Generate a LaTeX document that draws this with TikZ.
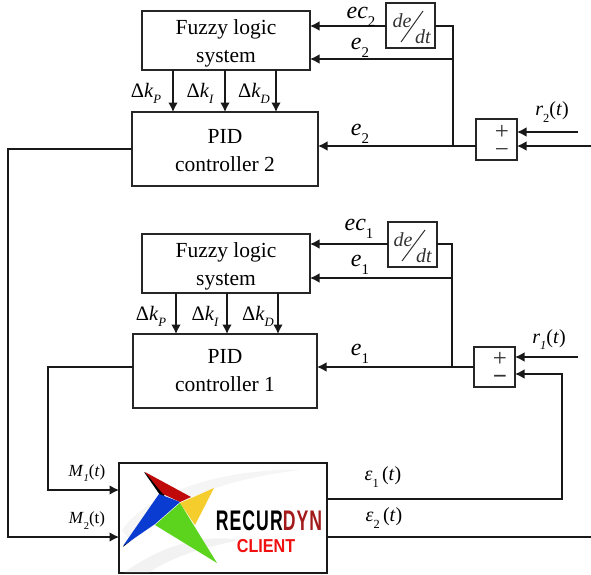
\documentclass[tikz,border=0pt]{standalone}
\usepackage{fontspec}
\usepackage{graphicx}
\setmainfont{Liberation Serif}
\newfontfamily\logofont{Liberation Sans}
\usetikzlibrary{arrows.meta}
\newcommand{\subx}[1]{\raisebox{-0.36em}{\scalebox{0.62}{#1}}}
\newcommand{\subi}[1]{\raisebox{-0.3em}{\scalebox{0.62}{\itshape #1}}}
\newcommand{\fzstrut}{\rule{0pt}{21pt}}
\newcommand{\pidstrut}{\rule{0pt}{17pt}}
\definecolor{logored}{HTML}{C00A0A}
\definecolor{logoblue}{HTML}{0A3CD2}
\definecolor{logoyellow}{HTML}{F5CE2E}
\definecolor{logogreen}{HTML}{5CD41E}
\definecolor{dynred}{HTML}{A31A1A}
\definecolor{clientred}{HTML}{F01010}
\tikzset{
  box/.style={draw=black!85,line width=1.2pt,fill=white,inner sep=0pt,outer sep=0pt,align=center,font=\fontsize{21.5}{28}\selectfont},
  conn/.style={draw=black!90,line width=1.2pt},
  arr/.style={conn,-{Latex[length=9.5pt,width=9.5pt]}},
  sig/.style={inner sep=0pt,font=\fontsize{24}{28}\selectfont\itshape},
  gain/.style={inner sep=0pt,font=\fontsize{20.5}{24}\selectfont},
  lab/.style={inner sep=0pt,font=\fontsize{20}{24}\selectfont},
  small/.style={inner sep=0pt,font=\fontsize{17}{20}\selectfont},
  deriv/.style={inner sep=0pt,font=\fontsize{20}{22}\selectfont\itshape,text=black!80},
  sumsign/.style={inner sep=0pt,align=center,font=\fontsize{25}{18}\selectfont,text=black!80},
}
\begin{document}
\begin{tikzpicture}[x=1pt,y=-1pt]
\useasboundingbox (0,0) rectangle (591,574);
% blocks
\node[box,minimum width=168pt,minimum height=59pt] (fz2) at (226,40.5) {\fzstrut Fuzzy logic\\system};
\node[box,minimum width=186pt,minimum height=74pt] (pid2) at (225,149) {\pidstrut PID\\controller 2};
\node[box,minimum width=168pt,minimum height=59pt] (fz1) at (226,263.5) {\fzstrut Fuzzy logic\\system};
\node[box,minimum width=184pt,minimum height=74pt] (pid1) at (225,371) {PID\\controller 1};
\node[box,minimum width=49pt,minimum height=45pt] (dd2) at (410.5,25.5) {};
\node[box,minimum width=49pt,minimum height=45pt] (dd1) at (412.5,244.5) {};
\node[box,minimum width=41pt,minimum height=41pt] (sum2) at (496.5,139.5) {};
\node[box,minimum width=41pt,minimum height=40pt] (sum1) at (494.5,367) {};
\node[draw=black!90,line width=2pt,fill=white,minimum width=208pt,minimum height=110pt,inner sep=0pt,outer sep=0pt] (client) at (223,518) {};
% derivative block contents
\node[deriv] (de2) at (402,21) {de};
\node[deriv] (dt2) at (423,37) {dt};
\coordinate (sa2) at (423,11); \coordinate (sb2) at (401,42);
\draw[black!80,line width=1pt] (sa2) -- (sb2);
\node[deriv] (de1) at (403,240) {de};
\node[deriv] (dt1) at (424,256) {dt};
\coordinate (sa1) at (425,230); \coordinate (sb1) at (402,261);
\draw[black!80,line width=1pt] (sa1) -- (sb1);
% sum signs
\node[sumsign] (s2) at (502,141) {+\\−};
\node[sumsign] (s1) at (500,368) {+\\\textbf{−}};
% free ends and routing points
\coordinate (k2p) at (173,0); \coordinate (k2i) at (225,0); \coordinate (k2d) at (276,0);
\coordinate (k1p) at (176,0); \coordinate (k1i) at (227,0); \coordinate (k1d) at (278,0);
\coordinate (ec2y) at (0,26); \coordinate (e2y) at (0,59); \coordinate (pe2y) at (0,146);
\coordinate (ec1y) at (0,244); \coordinate (e1y) at (0,278); \coordinate (pe1y) at (0,367);
\coordinate (v2) at (453,0); \coordinate (v1) at (452,0);
\coordinate (r2s) at (578,132); \coordinate (f2s) at (591,146); \coordinate (r1s) at (578,357);
\coordinate (fb1y) at (0,374); \coordinate (fb1x) at (562,0);
\coordinate (m1y) at (0,490); \coordinate (m2y) at (0,537); \coordinate (eps1y) at (0,499);
\coordinate (o1x) at (48,0); \coordinate (o2x) at (8,0); \coordinate (o2y) at (0,149);
\coordinate (eps2e) at (591,537);
% fuzzy to PID
\foreach \k in {k2p,k2i,k2d} \draw[arr] (fz2.south -| \k) -- (pid2.north -| \k);
\foreach \k in {k1p,k1i,k1d} \draw[arr] (fz1.south -| \k) -- (pid1.north -| \k);
% upper feedback
\draw[arr] (dd2.west |- ec2y) -- (fz2.east |- ec2y);
\draw[conn] (dd2.east |- ec2y) -- (v2 |- ec2y) -- (v2 |- pe2y);
\draw[arr] (v2 |- e2y) -- (fz2.east |- e2y);
\draw[arr] (sum2.west |- pe2y) -- (pid2.east |- pe2y);
\draw[arr] (r2s) -- (sum2.east |- r2s);
\draw[arr] (f2s) -- (sum2.east |- f2s);
% lower feedback
\draw[arr] (dd1.west |- ec1y) -- (fz1.east |- ec1y);
\draw[conn] (dd1.east |- ec1y) -- (v1 |- ec1y) -- (v1 |- pe1y);
\draw[arr] (v1 |- e1y) -- (fz1.east |- e1y);
\draw[arr] (sum1.west |- pe1y) -- (pid1.east |- pe1y);
\draw[arr] (r1s) -- (sum1.east |- r1s);
\draw[arr] (client.east |- eps1y) -- (fb1x |- eps1y) -- (fb1x |- fb1y) -- (sum1.east |- fb1y);
\draw[conn] (client.east |- eps2e) -- (eps2e);
% controller outputs
\draw[arr] (pid1.west |- pe1y) -- (o1x |- pe1y) -- (o1x |- m1y) -- (client.west |- m1y);
\draw[arr] (pid2.west |- o2y) -- (o2x |- o2y) -- (o2x |- m2y) -- (client.west |- m2y);
% signal labels
\node[sig] (lec2) at (361,17) {ec\subx{\upshape 2}};
\node[sig] (le2a) at (360,48) {e\subx{\upshape 2}};
\node[sig] (le2b) at (360,134) {e\subx{\upshape 2}};
\node[sig] (lec1) at (359,229) {ec\subx{\upshape 1}};
\node[sig] (le1a) at (360,265) {e\subx{\upshape 1}};
\node[sig] (le1b) at (360,354) {e\subx{\upshape 1}};
\node[gain] (g2p) at (146,93) {Δ\textit{k}\subi{P}};
\node[gain] (g2i) at (200,93) {Δ\textit{k}\subi{I}};
\node[gain] (g2d) at (254,93) {Δ\textit{k}\subi{D}};
\node[gain] (g1p) at (151,316) {Δ\textit{k}\subi{P}};
\node[gain] (g1i) at (205,316) {Δ\textit{k}\subi{I}};
\node[gain] (g1d) at (258,316) {Δ\textit{k}\subi{D}};
\node[lab] (lr2) at (552,112) {\textit{r}\subx{2}(\textit{t})};
\node[lab] (lr1) at (549,340) {\textit{r}\subi{1}(\textit{t})};
\node[small] (lm1) at (87,473) {\textit{M}\subi{1}(\textit{t})};
\node[small] (lm2) at (87,521) {\textit{M}\subx{2}(t)};
\node[lab] (leps1) at (383,477) {\textit{ε}\subx{1}\,(\textit{t})};
\node[lab] (leps2) at (384,518) {\textit{ε}\subx{2}\,(\textit{t})};
% logo inside the client block
\fill[black!5] (125,572) .. controls (170,540) and (210,535) .. (240,540) .. controls (200,548) and (170,558) .. (150,572) -- cycle;
\fill[black!4] (122,530) .. controls (150,490) and (230,468) .. (300,470) .. controls (230,478) and (165,500) .. (130,540) -- cycle;
\fill[black] (144,472) -- (160,495) -- (123,547) -- (156,520) -- (166,490) -- cycle;
\fill[logored] (145,472) -- (191,497) -- (180,502) -- (163,494) -- cycle;
\fill[logoblue] (159,494) -- (180,502) -- (155,524) -- (123,546) -- cycle;
\fill[logoyellow] (214,488) -- (195,525) -- (180,503) -- cycle;
\fill[logogreen] (180,503) -- (217,563) -- (155,525) -- cycle;
\node[inner sep=0pt,font=\logofont\bfseries] (logo1) at (269,520.5) {\scalebox{1.0}[1.35]{\fontsize{21}{21}\selectfont\addfontfeature{LetterSpace=6}\scalebox{0.84}[1]{RECUR\textcolor{dynred}{DYN}}}};
\node[inner sep=0pt,font=\logofont\bfseries,text=clientred] (logo2) at (266,546.5) {\scalebox{0.95}[1.1]{\fontsize{17}{17}\selectfont CLIENT}};
\end{tikzpicture}
\end{document}
